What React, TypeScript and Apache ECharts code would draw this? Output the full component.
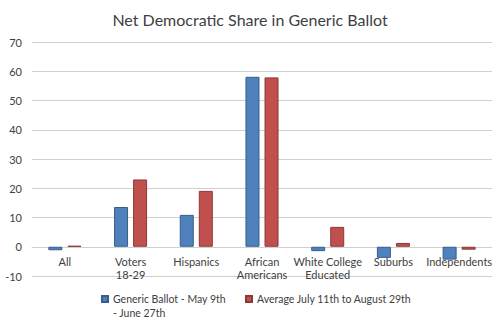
import React, { useEffect, useRef } from "react";
import * as echarts from "echarts";

const categories = ["All", "Voters\n18-29", "Hispanics", "African\nAmericans", "White College\nEducated", "Suburbs", "Independents"];
const seriesNames = ["Generic Ballot - May 9th - June 27th", "Average July 11th to August 29th"];
const genericBallot = [-1.2, 13.6, 10.9, 58.1, -1.5, -3.8, -4.4];
const averageJulyAug = [0.3, 23.0, 19.1, 57.9, 6.8, 1.3, -1.0];
const yTicks = { min: -10, max: 70, interval: 10 };

const FONT = "Lato, 'Open Sans', sans-serif";

export default function App() {
  const ref = useRef<HTMLDivElement>(null);
  useEffect(() => {
    document.body.style.margin = "0";
    const chart = echarts.init(ref.current!, null, { renderer: "svg" });
    chart.setOption({
      animation: false,
      backgroundColor: "#ffffff",
      textStyle: { fontFamily: FONT },
      title: {
        text: "Net Democratic Share in Generic Ballot",
        left: "center",
        top: 6,
        textStyle: { fontFamily: FONT, fontSize: 16, fontWeight: "normal", color: "#404040" },
      },
      legend: [
        {
          data: [seriesNames[0]],
          left: 101,
          top: 278,
          padding: 0,
          icon: "rect",
          itemWidth: 6,
          itemHeight: 6,
          itemGap: 4,
          formatter: () => " \nGeneric Ballot - May 9th\n- June 27th",
          textStyle: { fontFamily: FONT, fontSize: 10.5, color: "#404040", lineHeight: 14 },
        },
        {
          data: [seriesNames[1]],
          left: 245,
          top: 292,
          padding: 0,
          icon: "rect",
          itemWidth: 6,
          itemHeight: 6,
          textStyle: { fontFamily: FONT, fontSize: 10.5, color: "#404040", lineHeight: 14 },
        },
      ],
      grid: { left: 32, right: 8, top: 42, bottom: 56, containLabel: false },
      xAxis: {
        type: "category",
        data: categories,
        position: "bottom",
        offset: -29,
        axisLine: { onZero: false, lineStyle: { color: "#d0d0d0", width: 1 } },
        axisTick: { show: false },
        axisLabel: {
          interval: 0,
          margin: 8,
          fontFamily: FONT,
          fontSize: 11,
          color: "#404040",
          lineHeight: 13,
        },
      },
      yAxis: {
        type: "value",
        min: yTicks.min,
        max: yTicks.max,
        interval: yTicks.interval,
        axisLine: { show: false },
        axisTick: { show: false },
        splitLine: { lineStyle: { color: "#d0d0d0", width: 1 } },
        axisLabel: { margin: 10, fontFamily: FONT, fontSize: 11, color: "#404040" },
      },
      series: [
        {
          name: seriesNames[0],
          type: "bar",
          data: genericBallot,
          barWidth: 14,
          barGap: "36%",
          itemStyle: { color: "#4F81BD", borderColor: "#385D8A", borderWidth: 1 },
        },
        {
          name: seriesNames[1],
          type: "bar",
          data: averageJulyAug,
          barWidth: 14,
          itemStyle: { color: "#C0504D", borderColor: "#8C3836", borderWidth: 1 },
        },
      ],
    });
    return () => chart.dispose();
  }, []);
  return <div ref={ref} style={{ width: 500, height: 332 }} />;
}
